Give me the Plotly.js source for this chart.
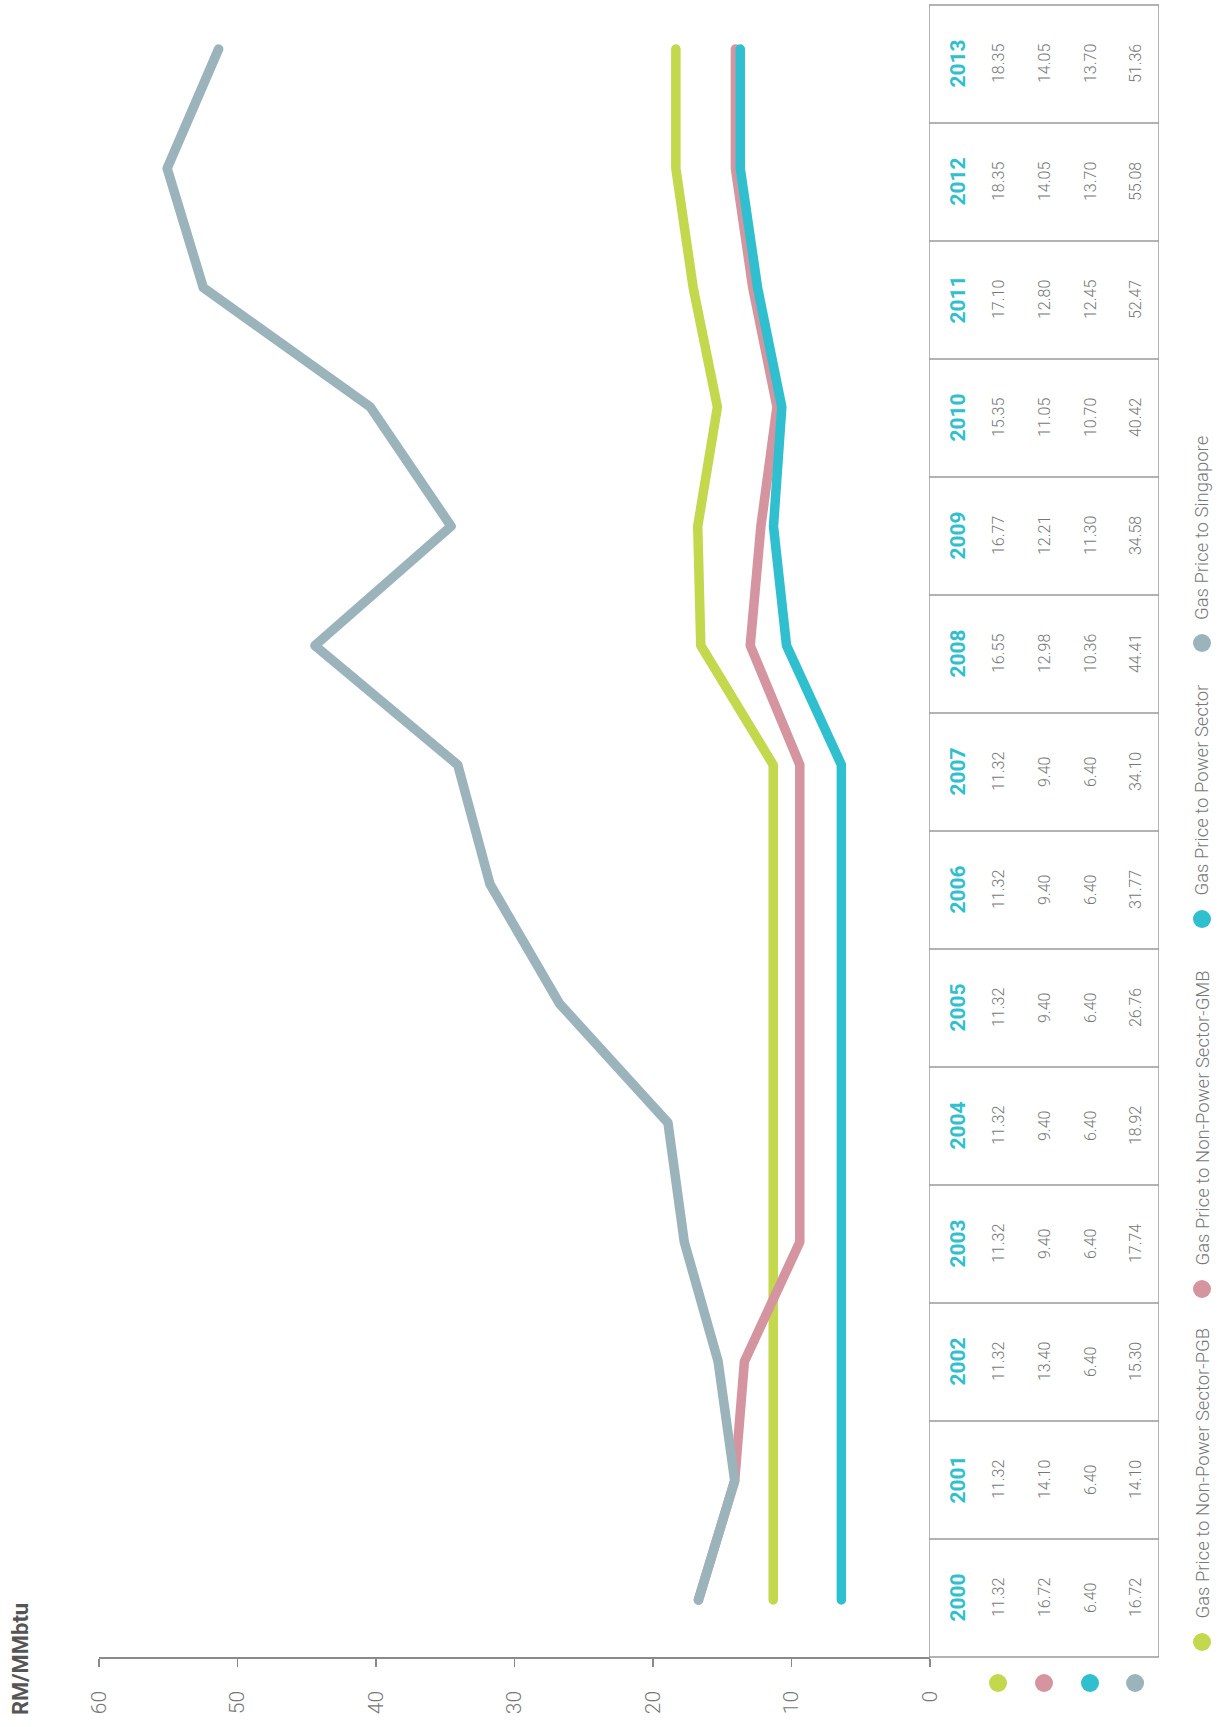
<!DOCTYPE html>
<html>
<head>
<meta charset="utf-8">
<script src="https://cdn.plot.ly/plotly-3.0.1.min.js"></script>
<style>
  html, body { margin: 0; padding: 0; background: #ffffff; }
  #chart { width: 1219px; height: 1727px; }
  .scatterlayer .js-line { stroke-linecap: round; stroke-linejoin: round; }
</style>
</head>
<body>
<div id="chart"></div>
<script>
// ---------------- data ----------------
const years = [2000, 2001, 2002, 2003, 2004, 2005, 2006, 2007, 2008, 2009, 2010, 2011, 2012, 2013];
const seriesNames = [
  "Gas Price to Non-Power Sector-PGB",
  "Gas Price to Non-Power Sector-GMB",
  "Gas Price to Power Sector",
  "Gas Price to Singapore"
];
const pgb       = [11.32, 11.32, 11.32, 11.32, 11.32, 11.32, 11.32, 11.32, 16.55, 16.77, 15.35, 17.10, 18.35, 18.35];
const gmb       = [16.72, 14.10, 13.40, 9.40, 9.40, 9.40, 9.40, 9.40, 12.98, 12.21, 11.05, 12.80, 14.05, 14.05];
const power     = [6.40, 6.40, 6.40, 6.40, 6.40, 6.40, 6.40, 6.40, 10.36, 11.30, 10.70, 12.45, 13.70, 13.70];
const singapore = [16.72, 14.10, 15.30, 17.74, 18.92, 26.76, 31.77, 34.10, 44.41, 34.58, 40.42, 52.47, 55.08, 51.36];
const valueTicks = [0, 10, 20, 30, 40, 50, 60];
const unitLabel = "RM/MMbtu";

// ---------------- styling / layout helpers ----------------
const series = [pgb, gmb, power, singapore];
const colors = ["#C3D84C", "#D495A0", "#2FBFCF", "#9BB4BC"];
const W = 1219, H = 1727;
const px = v => v / W;
const py = v => 1 - v / H;
const FONT = "Roboto, 'Open Sans', sans-serif";

// plot area geometry (pixels)
const axisBottom = 1657;       // value axis line / table bottom
const valueLeft = 99, valueRight = 930;
const yearLinePitch = (1600 - 49) / 13;
const yRange = [2000 - (axisBottom - 1600) / yearLinePitch, 2013 + 49 / yearLinePitch];
const cellH = (axisBottom - 5) / 14;
const tableAxisBottom = 1700;  // table axis extends below the table to hold row markers
const y2Range = [1999.5 - (tableAxisBottom - axisBottom) / cellH, 2013.5 + 5 / cellH];
const colPos = [0.62, 1.5, 2.5, 3.5, 4.48];   // year column, then one per series
const rowMarkerY = 1999.5 - 26 / cellH;

const traces = series.map((vals, i) => ({
  type: "scatter",
  mode: "lines",
  x: vals,
  y: years,
  xaxis: "x",
  yaxis: "y",
  name: seriesNames[i],
  line: { color: colors[i], width: 9.5 },
  hoverinfo: "skip",
  showlegend: false
}));

// row markers under the table
traces.push({
  type: "scatter",
  mode: "markers",
  x: colPos.slice(1),
  y: series.map(() => rowMarkerY),
  xaxis: "x2",
  yaxis: "y2",
  marker: { size: 18, color: colors, line: { width: 0 }, opacity: 1 },
  cliponaxis: false,
  hoverinfo: "skip",
  showlegend: false
});

const annotations = [];
const shapes = [];

// table: outer border + row separators
shapes.push({
  type: "rect", xref: "x2", yref: "y2",
  x0: 0, x1: 5, y0: years[0] - 0.5, y1: years[years.length - 1] + 0.5,
  line: { color: "#9a9a9a", width: 1.5 }, fillcolor: "rgba(0,0,0,0)"
});
years.slice(0, -1).forEach(yr => {
  shapes.push({
    type: "line", xref: "x2", yref: "y2",
    x0: 0, x1: 5, y0: yr + 0.5, y1: yr + 0.5,
    line: { color: "#9a9a9a", width: 1.5 }
  });
});

// table text
years.forEach((yr, j) => {
  annotations.push({
    xref: "x2", yref: "y2", x: colPos[0], y: yr,
    text: String(yr), textangle: -90, showarrow: false,
    xanchor: "center", yanchor: "middle",
    font: { family: FONT, size: 21, color: "#2FBFCF", weight: 700 }
  });
  series.forEach((vals, i) => {
    annotations.push({
      xref: "x2", yref: "y2", x: colPos[i + 1], y: yr,
      text: vals[j].toFixed(2), textangle: -90, showarrow: false,
      xanchor: "center", yanchor: "middle",
      font: { family: FONT, size: 16, color: "#777777", weight: 300 }
    });
  });
});

// unit label
annotations.push({
  xref: "paper", yref: "paper", x: px(20), y: py(1717),
  text: "<b>" + unitLabel + "</b>", textangle: -90, showarrow: false,
  xanchor: "center", yanchor: "bottom",
  font: { family: FONT, size: 22, color: "#555555" }
});

// legend (rotated)
const legendX = 1202;
const legendDotY = [1642, 1289, 919, 643];
seriesNames.forEach((name, i) => {
  shapes.push({
    type: "circle", xref: "paper", yref: "paper",
    xsizemode: "pixel", ysizemode: "pixel",
    xanchor: px(legendX), yanchor: py(legendDotY[i]),
    x0: -9, x1: 9, y0: -9, y1: 9,
    fillcolor: colors[i], line: { width: 0 }
  });
  annotations.push({
    xref: "paper", yref: "paper", x: px(legendX), y: py(legendDotY[i] - 21),
    text: name, textangle: -90, showarrow: false,
    xanchor: "center", yanchor: "bottom",
    font: { family: FONT, size: 18.5, color: "#777777", weight: 300 }
  });
});

const layout = {
  width: W, height: H,
  margin: { l: 0, r: 0, t: 0, b: 0, pad: 0 },
  paper_bgcolor: "#ffffff",
  plot_bgcolor: "rgba(0,0,0,0)",
  showlegend: false,
  xaxis: {
    domain: [px(valueLeft), px(valueRight)],
    range: [60, 0],
    anchor: "y",
    showline: true, linecolor: "#8a8a8a", linewidth: 1.5,
    ticks: "outside", ticklen: 8, tickwidth: 1.5, tickcolor: "#8a8a8a",
    tickvals: valueTicks, ticktext: valueTicks.map(String),
    tickangle: -90,
    ticklabelstandoff: 16,
    tickfont: { family: FONT, size: 21, color: "#777777", weight: 300 },
    showgrid: false, zeroline: false, fixedrange: true
  },
  yaxis: {
    domain: [py(axisBottom), 1],
    range: yRange,
    anchor: "x",
    visible: false, showgrid: false, zeroline: false, fixedrange: true
  },
  xaxis2: {
    domain: [px(929), px(1159)],
    range: [0, 5],
    anchor: "y2",
    visible: false, showgrid: false, zeroline: false, fixedrange: true
  },
  yaxis2: {
    domain: [py(tableAxisBottom), 1],
    range: y2Range,
    anchor: "x2",
    visible: false, showgrid: false, zeroline: false, fixedrange: true
  },
  shapes: shapes,
  annotations: annotations
};

Plotly.newPlot("chart", traces, layout, { staticPlot: true, displayModeBar: false });
</script>
</body>
</html>
